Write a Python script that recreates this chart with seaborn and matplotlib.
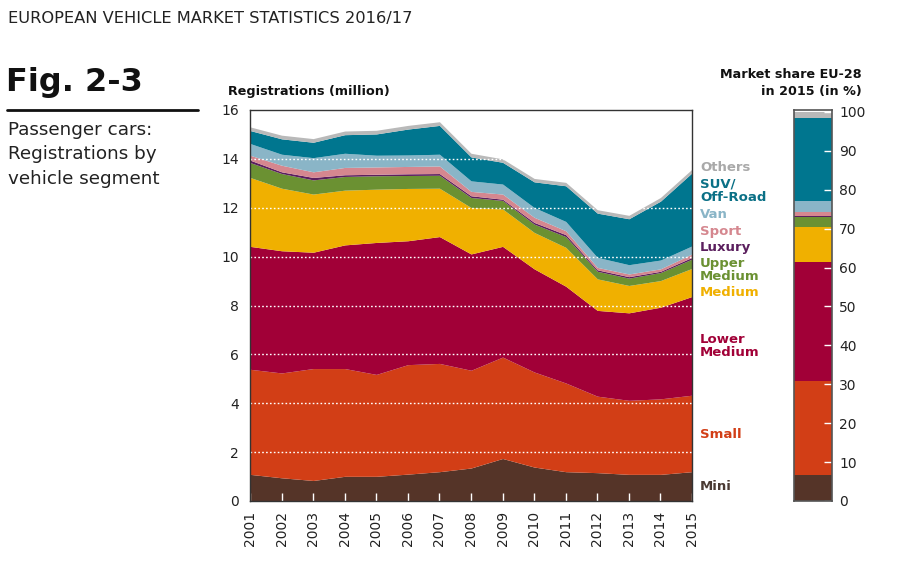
import numpy as np
import pandas as pd
import matplotlib
matplotlib.use("Agg")
import matplotlib.pyplot as plt
import seaborn as sns

# registrations by segment, million
years = list(range(2001, 2016))
segments = ["Others", "SUV/\nOff-Road", "Van", "Sport", "Luxury",
            "Upper\nMedium", "Medium", "Lower\nMedium", "Small", "Mini"]
mini = [1.09, 0.95, 0.84, 1.01, 1.01, 1.10, 1.20, 1.35, 1.74, 1.39, 1.20, 1.16, 1.09, 1.09, 1.20]
small = [4.30, 4.29, 4.58, 4.41, 4.17, 4.48, 4.43, 4.00, 4.15, 3.89, 3.63, 3.13, 3.03, 3.09, 3.13]
lower_medium = [5.03, 5.00, 4.76, 5.06, 5.40, 5.07, 5.19, 4.76, 4.53, 4.22, 3.96, 3.51, 3.58, 3.75, 4.04]
medium = [2.82, 2.56, 2.38, 2.24, 2.18, 2.14, 1.98, 1.90, 1.53, 1.49, 1.59, 1.29, 1.12, 1.09, 1.15]
upper_medium = [0.61, 0.60, 0.58, 0.56, 0.55, 0.53, 0.53, 0.41, 0.35, 0.34, 0.44, 0.31, 0.30, 0.33, 0.38]
luxury = [0.10, 0.07, 0.10, 0.07, 0.06, 0.07, 0.07, 0.07, 0.05, 0.07, 0.08, 0.06, 0.06, 0.05, 0.07]
sport = [0.20, 0.27, 0.23, 0.30, 0.30, 0.30, 0.31, 0.18, 0.21, 0.21, 0.16, 0.10, 0.11, 0.10, 0.14]
van = [0.48, 0.45, 0.58, 0.58, 0.48, 0.47, 0.48, 0.43, 0.41, 0.40, 0.38, 0.41, 0.38, 0.36, 0.33]
suv = [0.53, 0.63, 0.63, 0.76, 0.87, 1.06, 1.18, 0.98, 0.89, 1.05, 1.46, 1.81, 1.88, 2.41, 2.99]
others = [0.15, 0.15, 0.15, 0.15, 0.15, 0.15, 0.15, 0.15, 0.14, 0.14, 0.14, 0.14, 0.14, 0.15, 0.15]

# market share EU-28 2015 in %, bottom segment (Mini) first
share_2015 = [6.8, 24.1, 30.5, 9.0, 2.5, 0.3, 1.2, 2.6, 21.5, 1.5]

colors = ["#b9b9b9", "#00768f", "#8ab5c7", "#d5878f", "#5b1f5e",
          "#6b9132", "#f0b000", "#a10037", "#d23e16", "#553428"]
label_colors = ["#a9a9a9", "#0a7086", "#8ab5c7", "#d5878f", "#5b1f5e",
                "#6b9132", "#f0b000", "#a10037", "#d23e16", "#4a3a33"]

series = [others, suv, van, sport, luxury, upper_medium, medium, lower_medium, small, mini]
df = pd.DataFrame({
    "year": np.repeat([years], len(segments), axis=0).ravel(),
    "segment": np.repeat(segments, len(years)),
    "value": np.concatenate(series),
})

sns.set_theme(style="white")
plt.rcParams["font.family"] = ["DejaVu Sans"]

W, H = 918, 562
fig = plt.figure(figsize=(W / 100, H / 100), dpi=100)

def px(x, y):
    return x / W, 1 - y / H

ax = fig.add_axes([250 / W, 1 - 501 / H, 442 / W, 391 / H])
sns.histplot(data=df, x="year", weights="value", hue="segment", hue_order=segments,
             multiple="stack", element="poly", discrete=True, palette=colors,
             alpha=1, linewidth=0, legend=False, ax=ax)
ax.set_axisbelow(False)
ax.set_xlim(2001, 2015)
ax.set_ylim(0, 16)
ax.set_xlabel("")
ax.set_ylabel("")
for y in range(2, 16, 2):
    ax.axhline(y, color="white", ls=(0, (1.2, 1.6)), lw=1, zorder=5)
ax.set_yticks(range(0, 17, 2))
ax.set_xticks(years)
ax.set_xticklabels([str(y) for y in years], rotation=90)
ax.tick_params(axis="x", bottom=True, direction="in", length=6, width=1, color="white",
               labelcolor="#222222", labelsize=10, pad=7)
ax.tick_params(axis="y", left=False, length=0, labelsize=10, labelcolor="#222222", pad=8)
for s in ax.spines.values():
    s.set_color("#333333")
    s.set_linewidth(1)
    s.set_zorder(6)

# 2015 share bar
bx = fig.add_axes([794 / W, 1 - 501 / H, 38 / W, 391 / H])
bottom = 0
for val, col in zip(share_2015, colors[::-1]):
    bx.bar(0, val, bottom=bottom, width=1, color=col, linewidth=0)
    bottom += val
bx.set_axisbelow(False)
bx.set_xlim(-0.5, 0.5)
bx.set_ylim(0, 100.5)
bx.set_xticks([])
bx.set_yticks(range(0, 101, 10))
bx.yaxis.tick_right()
bx.tick_params(axis="y", left=False, right=True, labelright=True, labelleft=False,
               direction="in", length=6, width=1, color="white",
               labelcolor="#222222", labelsize=10, pad=5)
for s in bx.spines.values():
    s.set_color("#555555")
    s.set_linewidth(1.2)
    s.set_zorder(6)

# header text
fig.text(*px(8, 19), "EUROPEAN VEHICLE MARKET STATISTICS 2016/17", fontsize=11.7,
         color="#222222", va="center", ha="left")
fig.text(*px(6, 83), "Fig. 2-3", fontsize=23, fontweight="bold", color="#111111",
         va="center", ha="left")
fig.add_artist(plt.Line2D([7 / W, 198 / W], [1 - 110 / H, 1 - 110 / H],
                          color="#111111", lw=2))
fig.text(*px(8, 121), "Passenger cars:\nRegistrations by\nvehicle segment", fontsize=13.2,
         color="#222222", va="top", ha="left", linespacing=1.45)
fig.text(*px(228, 92), "Registrations (million)", fontsize=9.2, fontweight="bold",
         color="#111111", va="center", ha="left")
fig.text(*px(862, 83), "Market share EU-28\nin 2015 (in %)", fontsize=9.2, fontweight="bold",
         color="#111111", va="center", ha="right", multialignment="right", linespacing=1.3)

# segment labels
label_y = [168, 191, 215, 231, 247, 270, 293, 346, 434, 487]
for name, col, y in zip(segments, label_colors, label_y):
    fig.text(*px(700, y), name, fontsize=9.5, fontweight="bold", color=col,
             va="center", ha="left", linespacing=1.05)

fig.savefig("out.png", dpi=100)
